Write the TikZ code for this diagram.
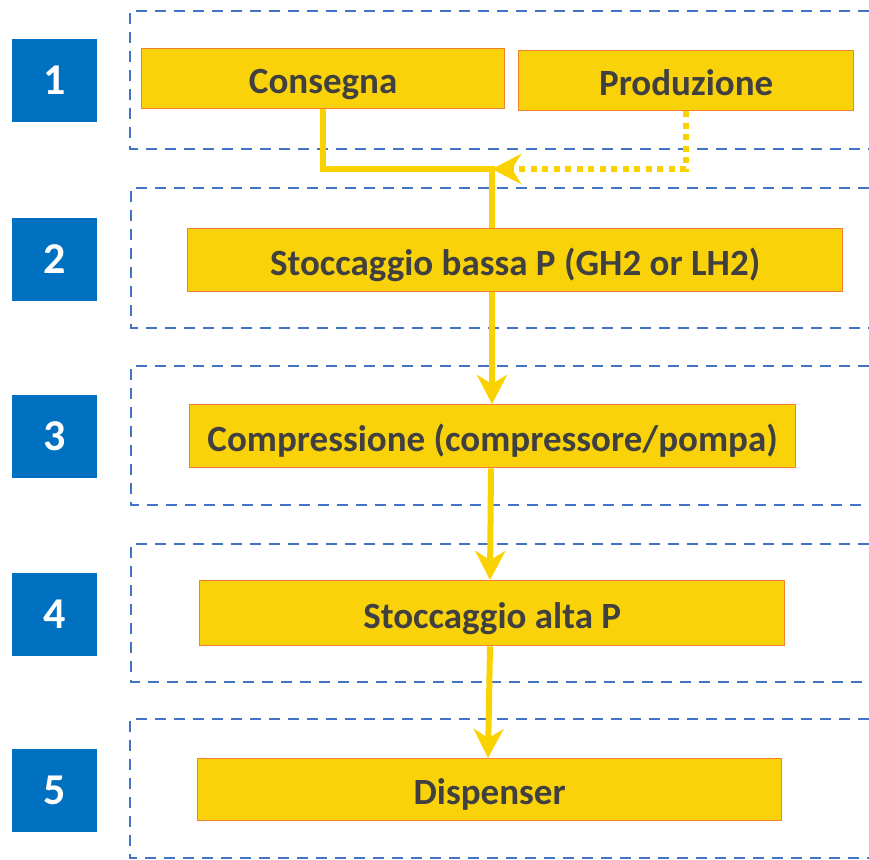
\documentclass[tikz,border=0pt]{standalone}
\usepackage{fontspec}
\setmainfont{Carlito}
\usetikzlibrary{arrows.meta}
\definecolor{boxfill}{RGB}{250,210,10}
\definecolor{boxline}{RGB}{240,130,50}
\definecolor{boxtext}{RGB}{64,64,64}
\definecolor{stepblue}{RGB}{0,112,192}
\definecolor{framedash}{RGB}{68,114,196}
\definecolor{flowyellow}{RGB}{250,210,0}
\begin{document}
\begin{tikzpicture}[x=1pt,y=-1pt,
  stage/.style={draw=boxline, line width=1.3pt, fill=boxfill, text=boxtext,
    font=\fontsize{37}{42}\selectfont\bfseries, inner sep=0pt, anchor=north west,
    text height=30pt, text depth=0pt},
  stepnum/.style={fill=stepblue, text=white, minimum width=85pt, minimum height=83pt,
    font=\fontsize{44}{48}\selectfont\bfseries, inner sep=0pt},
  frame/.style={framedash, line width=2.2pt, dash pattern=on 11pt off 8pt},
  flow/.style={flowyellow, line width=6pt},
  tip/.style={-{Stealth[length=29pt,width=30pt,inset=9pt]}}]
\useasboundingbox (0,0) rectangle (869,859);
%\draw [lightgray] (0,0) grid (869,859);

% dashed frames, open on the right
\draw [frame] (869, 11) -- (130, 11) -- (130,149) -- (869,149);
\draw [frame] (869,188) -- (131,188) -- (131,328) -- (869,328);
\draw [frame] (869,366) -- (131,366) -- (131,505) -- (869,505);
\draw [frame] (869,544) -- (131,544) -- (131,682) -- (869,682);
\draw [frame] (869,719) -- (130,719) -- (130,858) -- (869,858);

% step numbers
\node [stepnum] (n1) at (54.5, 80.5){1};
\node [stepnum] (n2) at (54.5,259.5){2};
\node [stepnum] (n3) at (54.5,436.5){3};
\node [stepnum] (n4) at (54.5,614){4};
\node [stepnum] (n5) at (54.5,790){5};

% stages
\node [stage, minimum width=363pt, minimum height=60pt] (cons) at (141, 48){Consegna};
\node [stage, minimum width=335pt, minimum height=60pt] (prod) at (518, 50){Produzione};
\node [stage, minimum width=655pt, minimum height=63pt] (stb) at (187,228){Stoccaggio bassa P (GH2 or LH2)};
\node [stage, minimum width=606pt, minimum height=63pt] (comp) at (189,404){Compressione (compressore/pompa)};
\node [stage, minimum width=585pt, minimum height=65pt] (sta) at (199,580){Stoccaggio alta P};
\node [stage, minimum width=584pt, minimum height=62pt] (disp) at (197,758){Dispenser};

% flow
\coordinate (j) at (492,169);
\draw [flow] (cons.south) |- (j) -- (j |- stb.north);
\draw [flow, dash pattern=on 6pt off 5.5pt, tip] (prod.south) |- (j);
\draw [flow, tip] (j |- stb.south) -- (j |- comp.north);
\draw [flow, tip] ([xshift=-1pt]j |- comp.south) -- ([xshift=-2pt]j |- sta.north);
\draw [flow, tip] ([xshift=-2pt]j |- sta.south) -- ([xshift=-4pt]j |- disp.north);
\end{tikzpicture}
\end{document}
